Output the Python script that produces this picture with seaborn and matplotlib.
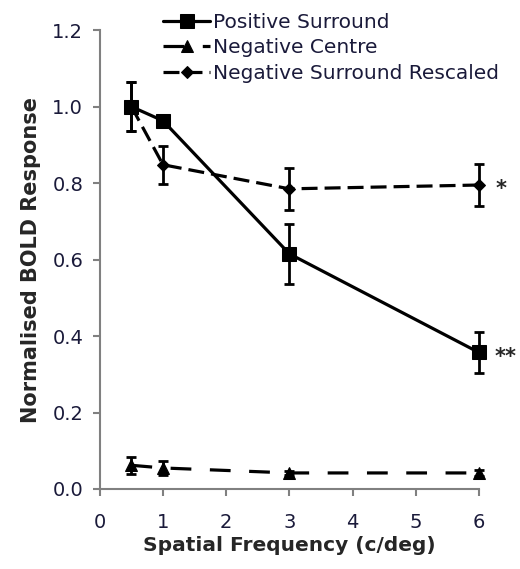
import matplotlib
matplotlib.use("Agg")
import matplotlib.pyplot as plt
import seaborn as sns
import pandas as pd

freq = [0.5, 1, 3, 6]
pos_surround = [1.0, 0.963, 0.615, 0.357]
pos_surround_err = [0.065, 0.0, 0.078, 0.053]
neg_centre = [0.062, 0.055, 0.042, 0.042]
neg_centre_err = [0.022, 0.018, 0.006, 0.008]
neg_surround_resc = [1.0, 0.848, 0.785, 0.795]
neg_surround_resc_err = [0.065, 0.05, 0.055, 0.055]
series_names = ["Positive Surround", "Negative Centre", "Negative Surround Rescaled"]

sns.set_theme(style="ticks")
plt.rcParams['font.family'] = ['DejaVu Sans']

rows = []
for name, vals in zip(series_names, [pos_surround, neg_centre, neg_surround_resc]):
    for f, v in zip(freq, vals):
        rows.append({"freq": f, "resp": v, "series": name})
df = pd.DataFrame(rows)

fig = plt.figure(figsize=(5.2, 5.69), dpi=100)
ax = fig.add_axes([0.192, 0.1406, 0.729, 0.8064])

dashes = {"Positive Surround": "", "Negative Centre": (6.5, 5.8), "Negative Surround Rescaled": (5, 2.2)}
markers = {"Positive Surround": "s", "Negative Centre": "^", "Negative Surround Rescaled": "D"}
sizes = {"Positive Surround": 9.5, "Negative Centre": 8, "Negative Surround Rescaled": 6.5}

for name, vals, errs in zip(series_names,
                            [pos_surround, neg_centre, neg_surround_resc],
                            [pos_surround_err, neg_centre_err, neg_surround_resc_err]):
    sub = df[df.series == name]
    sns.lineplot(data=sub, x="freq", y="resp", ax=ax, color="black", lw=2.3,
                 marker=markers[name], markersize=sizes[name], markeredgecolor="black",
                 dashes=False, label=name, clip_on=False, zorder=3)
    line = ax.get_lines()[-1]
    if dashes[name]:
        line.set_dashes(dashes[name])
    ax.errorbar(freq, vals, yerr=errs, fmt="none", ecolor="black", elinewidth=2,
                capsize=3.5, capthick=2, clip_on=False, zorder=2)

ax.text(6.27, 0.785, "*", fontsize=15, fontweight="bold", va="center", ha="left")
ax.text(6.24, 0.345, "**", fontsize=15, fontweight="bold", va="center", ha="left")

ax.set_xlim(0, 6)
ax.set_ylim(0, 1.2)
ax.set_xticks(range(0, 7))
ax.set_yticks([0.0, 0.2, 0.4, 0.6, 0.8, 1.0, 1.2])
ax.set_yticklabels([f"{t:.1f}" for t in [0.0, 0.2, 0.4, 0.6, 0.8, 1.0, 1.2]])
for s in ["top", "right"]:
    ax.spines[s].set_visible(False)
for s in ["left", "bottom"]:
    ax.spines[s].set_color("#808080")
    ax.spines[s].set_linewidth(1.5)
ax.tick_params(axis="both", direction="out", length=5, width=1.5, color="#808080",
               labelsize=14, labelcolor="#1a1a3a")
ax.tick_params(axis="y", pad=7)
ax.tick_params(axis="x", pad=12)
ax.set_xlabel("Spatial Frequency (c/deg)", fontsize=14.5, fontweight="bold", labelpad=3)
ax.set_ylabel("Normalised BOLD Response", fontsize=15, fontweight="bold", labelpad=8)

leg = ax.legend(loc="upper left", bbox_to_anchor=(0.145, 1.055), frameon=False, fontsize=14.5,
                handlelength=2.35, handletextpad=0.15, labelspacing=0.32, borderaxespad=0)
for t in leg.get_texts():
    t.set_color("#1a1a3a")

fig.savefig("out.png", dpi=100)
